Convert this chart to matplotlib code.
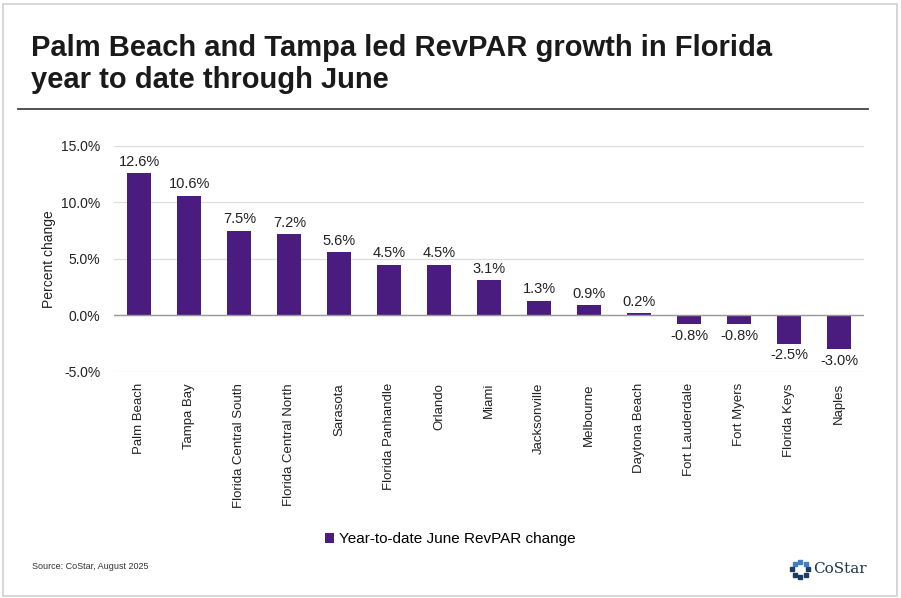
import matplotlib
matplotlib.use("Agg")
import matplotlib.pyplot as plt
import numpy as np

plt.rcParams['font.family'] = ['Liberation Sans', 'DejaVu Sans']

markets = ["Palm Beach", "Tampa Bay", "Florida Central South", "Florida Central North",
           "Sarasota", "Florida Panhandle", "Orlando", "Miami", "Jacksonville",
           "Melbourne", "Daytona Beach", "Fort Lauderdale", "Fort Myers",
           "Florida Keys", "Naples"]
revpar_change = [12.6, 10.6, 7.5, 7.2, 5.6, 4.5, 4.5, 3.1, 1.3, 0.9, 0.2,
                 -0.8, -0.8, -2.5, -3.0]
yticks = [-5, 0, 5, 10, 15]

purple = "#4a1c80"

fig = plt.figure(figsize=(9.01, 5.98), dpi=100)

# outer frame
fig.add_artist(plt.Rectangle((0.003, 0.004), 0.993, 0.99, transform=fig.transFigure,
                             fill=False, edgecolor="#d0d0d0", linewidth=1.2))

fig.text(0.034, 0.893, "Palm Beach and Tampa led RevPAR growth in Florida\nyear to date through June",
         fontsize=21, fontweight="bold", color="#1a1a1a", va="center", linespacing=1.2)
fig.add_artist(plt.Line2D([0.02, 0.963], [0.818, 0.818], transform=fig.transFigure,
                          color="#444444", linewidth=1.3))

ax = fig.add_axes([0.127, 0.378, 0.832, 0.378])
x = np.arange(len(markets))
bars = ax.bar(x, revpar_change, width=0.48, color=purple, zorder=3)

for xi, v in zip(x, revpar_change):
    if v >= 0:
        ax.text(xi, v + 0.4, f"{v:.1f}%", ha="center", va="bottom", fontsize=10.5, color="#222222")
    else:
        ax.text(xi, v - 0.4, f"{v:.1f}%", ha="center", va="top", fontsize=10.5, color="#222222")

ax.set_xlim(-0.5, len(markets) - 0.5)
ax.set_ylim(-5, 15)
ax.set_yticks(yticks)
ax.set_yticklabels([f"{t:.1f}%" for t in yticks], fontsize=10, color="#222222")
ax.set_xticks(x)
ax.set_xticklabels(markets, rotation=90, fontsize=9.5, color="#222222")
ax.tick_params(axis="both", length=0)
ax.tick_params(axis="x", pad=8)
ax.tick_params(axis="y", pad=10)
ax.grid(axis="y", color="#dcdcdc", linewidth=0.9, zorder=0)
ax.axhline(0, color="#9a9a9a", linewidth=1.0, zorder=4)
for s in ax.spines.values():
    s.set_visible(False)
ax.set_ylabel("Percent change", fontsize=10, color="#222222", labelpad=4)

leg = fig.legend([bars], ["Year-to-date June RevPAR change"], loc="center",
                 bbox_to_anchor=(0.5, 0.098), frameon=False, fontsize=11,
                 handlelength=0.6, handleheight=0.6, handletextpad=0.3)

fig.text(0.036, 0.053, "Source: CoStar, August 2025", fontsize=6.5, color="#333333", va="center")

# CoStar logo
theta = np.linspace(0, 2 * np.pi, 8, endpoint=False)
fig.text(0.903, 0.048, "CoStar", fontsize=11, family="DejaVu Serif", color="#1f3550",
         va="center", ha="left")
lx, ly = 0.888, 0.048
for t in theta:
    fig.add_artist(plt.Line2D([lx + 0.0085 * np.cos(t)], [ly + 0.0125 * np.sin(t)],
                              transform=fig.transFigure, marker="s", markersize=3.2,
                              color="#1f3a60" if np.sin(t) < 0.5 else "#3d7fc0",
                              linestyle="none"))

fig.savefig("out.png", dpi=100)
